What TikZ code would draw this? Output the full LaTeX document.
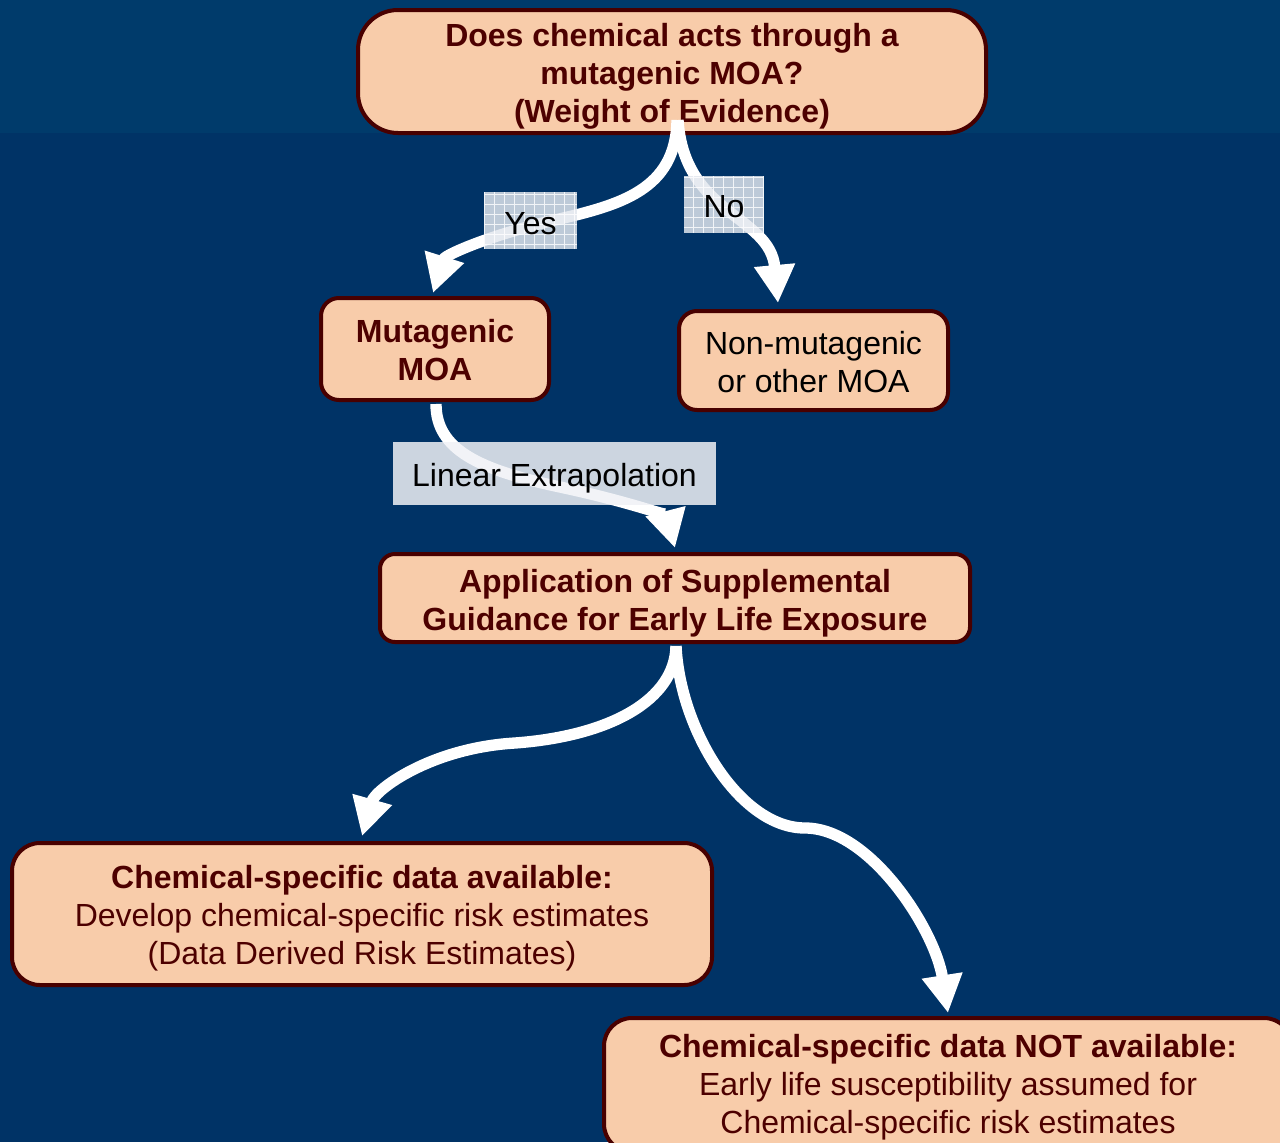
\documentclass[tikz,border=0pt]{standalone}
\usepackage{fontspec}
\setmainfont{Liberation Sans}
\usetikzlibrary{arrows.meta,calc}
\definecolor{bgmain}{RGB}{0,51,102}
\definecolor{bgtop}{RGB}{0,59,107}
\definecolor{boxfill}{RGB}{248,204,170}
\definecolor{boxdraw}{RGB}{72,0,0}
\definecolor{txtmaroon}{RGB}{77,0,0}
\definecolor{labfill}{RGB}{226,231,238}
\definecolor{labfillb}{RGB}{240,242,246}
\newcommand\tdn[1]{\rule{0pt}{#1}}
\begin{document}
\begin{tikzpicture}[x=0.75pt,y=-0.75pt,
  box/.style={draw=boxdraw, line width=3pt, fill=boxfill, rounded corners=#1,
    inner sep=0pt, align=center, font=\fontsize{24pt}{28.5pt}\selectfont},
  box/.default=13.5pt,
  bold/.style={text=txtmaroon, font=\fontsize{24pt}{28.5pt}\selectfont\bfseries},
  flow/.style={draw=white, line width=8.5pt, -{Triangle[length=28.5pt,width=29pt]}},
  lab/.style={fill=labfill, fill opacity=0.84, text opacity=1, inner sep=0pt,
    text=black, font=\fontsize{24pt}{28.5pt}\selectfont},
  gridded/.style={path picture={\draw[white, line width=0.8pt, opacity=0.8]
    (path picture bounding box.south west) grid[step=7.5pt] (path picture bounding box.north east);}}
]
\useasboundingbox (0,0) rectangle (1280,1142);
\clip (0,0) rectangle (1280,1142);
\fill[bgmain] (0,0) rectangle (1280,1142);
\fill[bgtop] (0,0) rectangle (1280,133);

% boxes
\node[box=30pt, bold, minimum width=471pt, minimum height=92.25pt] (top) at (672,71.5)
  {\tdn{24.7pt}Does chemical acts through a\\mutagenic MOA?\\(Weight of Evidence)};
\node[box, bold, minimum width=171pt, minimum height=76.5pt] (mut) at (435,349)
  {\tdn{19.2pt}Mutagenic\\MOA};
\node[box, text=black, minimum width=201.75pt, minimum height=74.25pt] (non) at (813.5,360.5)
  {\tdn{20.2pt}Non-mutagenic\\or other MOA};
\node[box=11.25pt, bold, minimum width=442.5pt, minimum height=66pt] (app) at (675,598)
  {\tdn{24.7pt}Application of Supplemental\\Guidance for Early Life Exposure};
\node[box=21pt, text=txtmaroon, minimum width=525pt, minimum height=106.5pt] (avail) at (362,914)
  {\tdn{24pt}\textbf{Chemical-specific data available:}\\Develop chemical-specific risk estimates\\(Data Derived Risk Estimates)};
\node[box=21pt, text=txtmaroon, minimum width=516pt, minimum height=100.5pt] (notavail) at (948,1085)
  {\tdn{20.2pt}\textbf{Chemical-specific data NOT available:}\\Early life susceptibility assumed for\\Chemical-specific risk estimates};

% connectors
\draw[flow] ($(top.south)+(5,-15)$) .. controls (676,190) and (620,205) .. (555,220)
  .. controls (490,235) and (445,255) .. ($(mut.north)+(-2,-3)$);
\draw[flow] ($(top.south)+(6,-15)$) .. controls (684,215) and (770,215) .. ($(non.north)+(-35.5,-6)$);
\draw[flow] ($(mut.south)+(1,2)$) .. controls (436,450) and (480,470) .. (560,487)
  .. controls (635,503) and (667,517) .. ($(app.north)+(0,-4)$);
\draw[flow] ($(app.south)+(1,2)$) .. controls (675,700) and (610,736) .. (515,743)
  .. controls (430,748) and (375,790) .. ($(avail.north)+(0,-5)$);
\draw[flow] ($(app.south)+(1,2)$) .. controls (680,730) and (740,828) .. (805,828)
  .. controls (870,828) and (935,930) .. ($(notavail.north)+(0,-3)$);

% labels
\node[lab, gridded, minimum width=69.75pt, minimum height=42.75pt] (yes) at (530.5,220.5) {\tdn{21.7pt}Yes};
\node[lab, gridded, minimum width=60pt, minimum height=42.75pt] (no) at (724,204.5) {\tdn{20.2pt}No};
\node[lab, fill=labfillb, fill opacity=0.85, minimum width=242.25pt, minimum height=47.25pt] (lin) at (554.5,473.5) {\tdn{24.7pt}Linear Extrapolation};
\end{tikzpicture}
\end{document}
